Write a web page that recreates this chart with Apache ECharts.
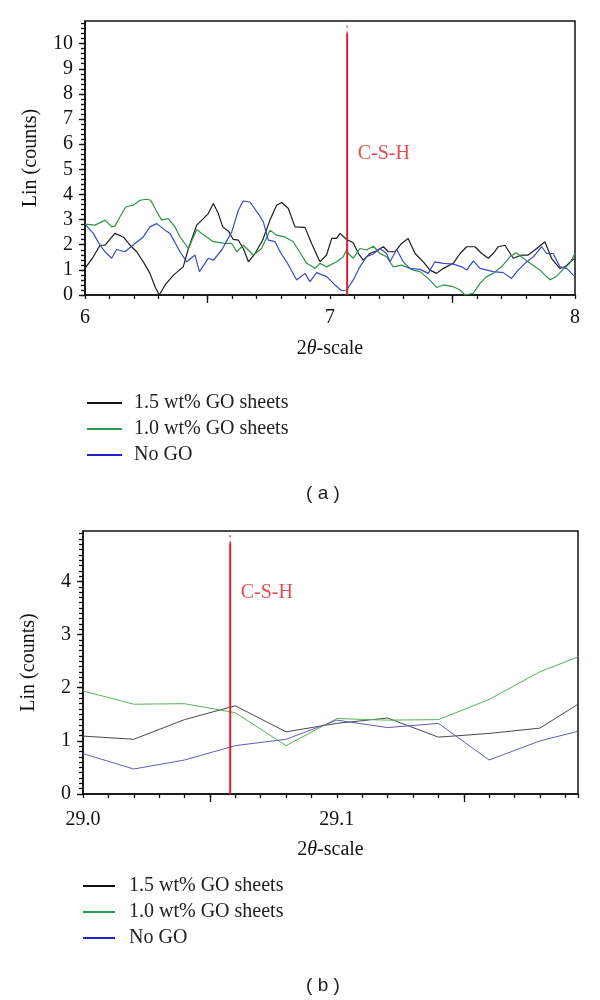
<!DOCTYPE html>
<html><head><meta charset="utf-8">
<script src="https://cdn.jsdelivr.net/npm/echarts@6/dist/echarts.min.js"></script>
<style>html,body{margin:0;padding:0;background:#fff}#c{width:600px;height:1000px}</style>
</head><body><div id="c"></div>
<script>
const seriesNames = ['1.5 wt% GO sheets', '1.0 wt% GO sheets', 'No GO'];
const panelLabels = ['( a )', '( b )'];
const yAxisName = 'Lin (counts)';
const xAxisName = '2{i|θ}-scale';
const peakName = 'C-S-H';

// Panel (a): 2θ 6–8
const topBlack = [[6.000,1.06],[6.034,1.52],[6.061,1.98],[6.082,1.98],[6.122,2.45],[6.156,2.31],[6.184,1.98],[6.211,1.72],[6.238,1.32],[6.265,0.86],[6.286,0.33],[6.303,0.00],[6.327,0.40],[6.361,0.79],[6.401,1.12],[6.422,1.85],[6.456,2.78],[6.483,3.04],[6.503,3.24],[6.524,3.64],[6.544,3.24],[6.562,2.71],[6.585,2.55],[6.605,2.21],[6.626,2.18],[6.646,1.85],[6.667,1.32],[6.694,1.65],[6.725,2.18],[6.755,2.98],[6.782,3.57],[6.803,3.68],[6.830,3.44],[6.857,2.71],[6.898,2.69],[6.925,2.05],[6.959,1.32],[6.986,1.59],[7.007,2.25],[7.027,2.25],[7.041,2.45],[7.068,2.21],[7.095,2.08],[7.116,1.65],[7.136,1.39],[7.163,1.65],[7.190,1.76],[7.218,1.92],[7.238,1.72],[7.265,1.72],[7.292,2.05],[7.319,2.25],[7.347,1.65],[7.381,1.32],[7.408,0.99],[7.435,0.86],[7.463,1.06],[7.503,1.26],[7.531,1.65],[7.558,1.92],[7.592,1.92],[7.619,1.65],[7.646,1.46],[7.666,1.65],[7.687,1.92],[7.714,1.98],[7.748,1.46],[7.782,1.59],[7.809,1.59],[7.836,1.79],[7.877,2.12],[7.904,1.46],[7.938,1.06],[7.959,1.12],[7.993,1.42],[8.000,1.42]];
const topGreen = [[6.000,2.82],[6.041,2.78],[6.082,2.98],[6.109,2.71],[6.122,2.74],[6.143,3.11],[6.167,3.51],[6.197,3.57],[6.224,3.77],[6.252,3.81],[6.268,3.77],[6.293,3.31],[6.313,2.98],[6.340,3.04],[6.367,2.71],[6.388,2.31],[6.422,1.85],[6.456,2.61],[6.476,2.45],[6.524,2.12],[6.571,2.05],[6.599,2.05],[6.619,1.72],[6.646,1.98],[6.687,1.59],[6.721,1.85],[6.755,2.58],[6.782,2.38],[6.816,2.31],[6.850,2.12],[6.884,1.59],[6.905,1.26],[6.939,1.06],[6.959,1.26],[6.986,1.12],[7.027,1.32],[7.054,1.52],[7.068,1.81],[7.075,1.65],[7.095,1.46],[7.122,1.85],[7.149,1.79],[7.177,1.94],[7.204,1.65],[7.231,1.52],[7.258,1.12],[7.292,1.19],[7.312,1.12],[7.340,0.99],[7.367,0.93],[7.401,0.66],[7.435,0.30],[7.463,0.40],[7.503,0.33],[7.531,0.20],[7.551,0.00],[7.585,0.07],[7.612,0.46],[7.639,0.73],[7.666,0.86],[7.700,1.12],[7.734,1.52],[7.759,1.68],[7.789,1.46],[7.816,1.26],[7.857,0.99],[7.898,0.60],[7.925,0.75],[7.952,1.02],[7.979,1.26],[8.000,1.65]];
const topBlue = [[6.000,2.82],[6.034,2.45],[6.061,1.98],[6.082,1.72],[6.109,1.46],[6.129,1.81],[6.163,1.72],[6.204,2.05],[6.238,2.31],[6.265,2.71],[6.293,2.84],[6.327,2.58],[6.347,2.45],[6.388,1.72],[6.415,1.32],[6.449,1.59],[6.467,0.93],[6.503,1.46],[6.524,1.39],[6.558,1.79],[6.599,2.51],[6.626,3.37],[6.646,3.74],[6.673,3.70],[6.707,3.24],[6.728,2.91],[6.748,2.18],[6.776,2.12],[6.796,1.72],[6.823,1.32],[6.864,0.60],[6.898,0.86],[6.918,0.53],[6.946,0.89],[6.986,0.73],[7.020,0.40],[7.048,0.17],[7.068,0.20],[7.095,0.60],[7.122,1.12],[7.149,1.52],[7.177,1.63],[7.204,1.85],[7.231,1.65],[7.245,1.32],[7.272,1.81],[7.299,1.32],[7.326,1.06],[7.367,1.02],[7.401,0.86],[7.428,1.32],[7.463,1.26],[7.503,1.23],[7.537,1.12],[7.558,0.99],[7.585,1.36],[7.612,1.06],[7.666,0.93],[7.707,0.89],[7.741,0.66],[7.768,0.99],[7.796,1.26],[7.830,1.52],[7.864,1.92],[7.884,1.65],[7.911,1.65],[7.938,1.12],[7.966,1.06],[7.993,0.79],[8.000,0.73]];
const topPeak = { x: 7.07, solidTop: 10.4, labelY: 5.6 };
const topXRange = [6, 8];
const topYRange = [0, 10.9];
const topMajorTicks = [6.5, 7.5];

// Panel (b): 2θ 29.0–29.195
const botX = [29.00, 29.02, 29.04, 29.06, 29.08, 29.10, 29.12, 29.14, 29.16, 29.18, 29.195];
const botBlack = [1.09, 1.03, 1.40, 1.66, 1.17, 1.33, 1.43, 1.07, 1.14, 1.24, 1.69];
const botGreen = [1.94, 1.69, 1.70, 1.53, 0.91, 1.42, 1.39, 1.40, 1.78, 2.30, 2.58];
const botBlue  = [0.76, 0.47, 0.64, 0.91, 1.03, 1.39, 1.25, 1.33, 0.64, 1.00, 1.18];
const botPeak = { x: 29.058, solidTop: 4.72, labelY: 3.78 };
const botXRange = [29.0, 29.195];
const botYRange = [0, 4.95];
const botMajorTicks = [29.05, 29.15];

const SERIF = 'Liberation Serif';
const RED = '#d8202c';
const INK = '#111';
const topColors = ['#1c1c1c', '#2f9447', '#3a4cc0'];
const botColors = ['#4a4a4a', '#56b25c', '#5e5eb8'];
const legendColors = ['#111111', '#2a9a4a', '#2222cc'];

function steps(a, b, step) {
  const out = [];
  for (let k = 0; a + k * step <= b + 1e-9; k++) out.push(+(a + k * step).toFixed(4));
  return out;
}

const chart = echarts.init(document.getElementById('c'), null, { renderer: 'canvas' });

// helper axis that only draws ticks (no line, no labels)
function tickAxis(gridIndex, range, values, length, position) {
  return {
    gridIndex, type: 'value', min: range[0], max: range[1], position,
    axisLine: { show: false, onZero: false },
    axisTick: { show: true, length, customValues: values, lineStyle: { color: INK, width: 1.3 } },
    axisLabel: { show: false },
    splitLine: { show: false }
  };
}

function xMain(gridIndex, range, interval, labelFmt, labelMargin, nameGap) {
  return {
    gridIndex, type: 'value', min: range[0], max: range[1], interval,
    axisLine: { show: true, onZero: false, lineStyle: { color: INK, width: 1.5 } },
    axisTick: { show: true, length: 4, lineStyle: { color: INK, width: 1.3 } },
    axisLabel: { formatter: labelFmt, margin: labelMargin, fontFamily: SERIF, fontSize: 20, color: INK },
    splitLine: { show: false },
    name: xAxisName, nameLocation: 'middle', nameGap,
    nameTextStyle: { fontFamily: SERIF, fontSize: 20, color: INK,
      rich: { i: { fontFamily: SERIF, fontSize: 20, fontStyle: 'italic', color: INK } } }
  };
}

function yMain(gridIndex, range, nameGap) {
  return {
    gridIndex, type: 'value', min: range[0], max: range[1], interval: 1,
    axisLine: { show: true, onZero: false, lineStyle: { color: INK, width: 1.5 } },
    axisTick: { show: true, length: 6, lineStyle: { color: INK, width: 1.3 } },
    axisLabel: { margin: 12, fontFamily: SERIF, fontSize: 20, color: INK, showMaxLabel: false },
    splitLine: { show: false },
    name: yAxisName, nameLocation: 'middle', nameGap,
    nameTextStyle: { fontFamily: SERIF, fontSize: 20, color: INK }
  };
}

function dataSeries(names, datas, colors, width, xi, yi) {
  return names.map((n, i) => ({
    name: n, type: 'line', xAxisIndex: xi, yAxisIndex: yi, data: datas[i],
    showSymbol: false, symbol: 'none', color: colors[i],
    lineStyle: { color: colors[i], width }, silent: true, animation: false, clip: true, z: 3
  }));
}

function peakSeries(peak, yMax, xi, yi) {
  return [{
    type: 'line', xAxisIndex: xi, yAxisIndex: yi, data: [[peak.x, 0], [peak.x, peak.solidTop]],
    symbol: 'none', lineStyle: { color: RED, width: 2 }, silent: true, animation: false, z: 4
  }, {
    type: 'line', xAxisIndex: xi, yAxisIndex: yi, data: [[peak.x, peak.solidTop], [peak.x, yMax]],
    symbol: 'none', lineStyle: { color: RED, width: 1.5, type: [2, 4], opacity: 0.8 }, silent: true, animation: false, z: 4
  }, {
    type: 'scatter', xAxisIndex: xi, yAxisIndex: yi, data: [[peak.x, peak.labelY]],
    symbol: 'circle', symbolSize: 1, itemStyle: { color: 'rgba(0,0,0,0)' }, silent: true, animation: false,
    label: { show: true, formatter: peakName, position: 'right', distance: 10,
      fontFamily: SERIF, fontSize: 20, color: RED }
  }];
}

const fmtTop = v => Math.abs(v - Math.round(v)) < 1e-6 ? String(Math.round(v)) : '';
const fmtBot = v => Math.abs(v * 10 - Math.round(v * 10)) < 1e-6 ? v.toFixed(1) : '';

const botSeriesData = [botBlack, botGreen, botBlue].map(arr => arr.map((v, i) => [botX[i], v]));
const legendData = seriesNames.map((n, i) => ({ name: n, itemStyle: { color: legendColors[i] } }));
const titleStyle = { fontFamily: 'Liberation Sans', fontSize: 19, fontWeight: 'normal', color: '#222' };

const option = {
  animation: false,
  backgroundColor: '#fff',
  title: [
    { text: panelLabels[0], left: 323, top: 484, textAlign: 'center', padding: 0, textStyle: titleStyle },
    { text: panelLabels[1], left: 323, top: 976, textAlign: 'center', padding: 0, textStyle: titleStyle }
  ],
  legend: [
    { data: legendData, orient: 'vertical', left: 87, top: 390, padding: 0, itemGap: 0,
      itemWidth: 35, itemHeight: 2, icon: 'rect', selectedMode: false,
      textStyle: { fontFamily: SERIF, fontSize: 20, color: '#222', lineHeight: 26, padding: [0, 0, 0, 7] } },
    { data: legendData, orient: 'vertical', left: 83, top: 873, padding: 0, itemGap: 0,
      itemWidth: 32, itemHeight: 2, icon: 'rect', selectedMode: false,
      textStyle: { fontFamily: SERIF, fontSize: 20, color: '#222', lineHeight: 26, padding: [0, 0, 0, 9] } }
  ],
  grid: [
    { left: 85, top: 21, width: 490, height: 274, show: true, borderColor: INK, borderWidth: 1.5 },
    { left: 83, top: 531, width: 495, height: 263, show: true, borderColor: INK, borderWidth: 1.5 }
  ],
  xAxis: [
    xMain(0, topXRange, 0.1, fmtTop, 13, 44),
    tickAxis(0, topXRange, topMajorTicks, 8, 'bottom'),
    xMain(1, botXRange, 0.01, fmtBot, 16, 46),
    tickAxis(1, botXRange, botMajorTicks, 8, 'bottom')
  ],
  yAxis: [
    yMain(0, topYRange, 44),
    tickAxis(0, topYRange, steps(0, 10.8, 0.2), 4, 'left'),
    yMain(1, botYRange, 44),
    tickAxis(1, botYRange, steps(0, 4.9, 0.1), 4, 'left')
  ],
  series: [
    ...dataSeries(seriesNames, [topBlack, topGreen, topBlue], topColors, 1.2, 0, 0),
    ...peakSeries(topPeak, topYRange[1], 0, 0),
    ...dataSeries(seriesNames, botSeriesData, botColors, 1, 2, 2),
    ...peakSeries(botPeak, botYRange[1], 2, 2)
  ]
};
chart.setOption(option);
</script></body></html>
